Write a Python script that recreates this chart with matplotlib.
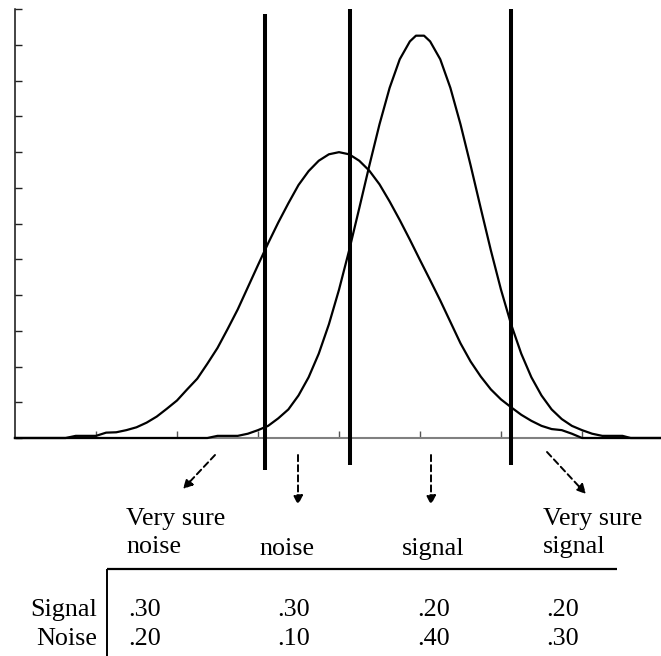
import matplotlib
matplotlib.use("Agg")
import matplotlib.pyplot as plt

# ---- data -----------------------------------------------------------------
# Noise distribution (wider curve), x in units of the noise standard deviation
noise_x = [-4.0, -3.5, -3.375, -3.25, -3.125, -3.0, -2.875, -2.75, -2.625, -2.5,
           -2.375, -2.25, -2.125, -2.0, -1.875, -1.75, -1.625, -1.5, -1.375,
           -1.25, -1.125, -1.0, -0.875, -0.75, -0.625, -0.5, -0.375, -0.25,
           -0.125, 0.0, 0.125, 0.25, 0.375, 0.5, 0.625, 0.75, 0.875, 1.0,
           1.125, 1.25, 1.375, 1.5, 1.625, 1.75, 1.875, 2.0, 2.125, 2.25,
           2.375, 2.5, 2.625, 2.75, 2.875, 3.0, 3.975]
noise_y = [0.0, 0.0, 0.0, 0.06, 0.06, 0.06, 0.15, 0.16, 0.22, 0.30,
           0.43, 0.60, 0.82, 1.05, 1.36, 1.66, 2.08, 2.52, 3.05,
           3.60, 4.22, 4.84, 5.45, 6.03, 6.57, 7.08, 7.47, 7.76,
           7.94, 8.0, 7.94, 7.76, 7.48, 7.10, 6.62, 6.10, 5.55, 4.98,
           4.42, 3.85, 3.25, 2.65, 2.14, 1.72, 1.36, 1.08, 0.86, 0.65,
           0.48, 0.34, 0.25, 0.22, 0.12, 0.0, 0.0]

# Signal distribution (narrower, taller curve)
signal_x = [-4.0, -1.625, -1.5, -1.375, -1.25, -1.125, -1.0, -0.875, -0.75,
            -0.625, -0.5, -0.375, -0.25, -0.125, 0.0, 0.125, 0.25, 0.375,
            0.5, 0.625, 0.75, 0.875, 0.95, 1.05, 1.125, 1.25, 1.375, 1.5,
            1.625, 1.75, 1.875, 2.0, 2.125, 2.25, 2.375, 2.5, 2.625, 2.75,
            2.875, 3.0, 3.125, 3.25, 3.375, 3.5, 3.6, 3.975]
signal_y = [0.0, 0.0, 0.06, 0.06, 0.06, 0.12, 0.22, 0.34, 0.55,
            0.80, 1.19, 1.70, 2.36, 3.18, 4.15, 5.25, 6.43, 7.63,
            8.78, 9.80, 10.60, 11.10, 11.26, 11.26, 11.10, 10.60, 9.80, 8.78,
            7.63, 6.43, 5.25, 4.15, 3.18, 2.36, 1.70, 1.19, 0.80, 0.53,
            0.34, 0.22, 0.12, 0.06, 0.06, 0.06, 0.0, 0.0]

# Decision criteria separating the four rating categories
criteria = [-0.91, 0.14, 2.12]

# Rating categories and response proportions
categories = ["Very sure\nnoise", "noise", "signal", "Very sure\nsignal"]
row_labels = ["Signal", "Noise"]
signal_props = [0.30, 0.30, 0.20, 0.20]
noise_props = [0.20, 0.10, 0.40, 0.30]

# ---- figure -----------------------------------------------------------------
W, H = 661, 656
X0, XS = 339.0, 81.0      # pixel of x=0, pixels per x unit
Y0, YS = 438.0, 35.73     # pixel of y=0, pixels per y unit

fig = plt.figure(figsize=(W / 100, H / 100), dpi=100)
ax = fig.add_axes([0, 0, 1, 1])
ax.set_xlim(-X0 / XS, (W - X0) / XS)
ax.set_ylim((Y0 - H) / YS, Y0 / YS)
ax.patch.set_alpha(0)


def dx(px):
    return (px - X0) / XS


def dy(py):
    return (Y0 - py) / YS


serif = ["Liberation Serif", "DejaVu Serif"]
fs = 18.8

# axes
for side in ("top", "right"):
    ax.spines[side].set_visible(False)
ax.spines["left"].set_position(("data", -4.0))
ax.spines["left"].set_bounds(0, 12)
ax.spines["left"].set_linewidth(1.1)
ax.spines["left"].set_color("#111111")
ax.spines["bottom"].set_position(("data", 0.0))
ax.spines["bottom"].set_bounds(-4.0, dx(W))
ax.spines["bottom"].set_linewidth(1.5)
ax.spines["bottom"].set_color("#808080")
ax.set_yticks(range(0, 13))
ax.set_xticks(range(-3, 4))
ax.tick_params(axis="y", direction="in", length=5, width=1.0, color="#222222",
               labelleft=False)
ax.tick_params(axis="x", direction="in", length=5, width=1.0, color="#555555",
               labelbottom=False)

# distributions
ax.plot(noise_x, noise_y, color="black", lw=1.6, zorder=3, solid_joinstyle="round")
ax.plot(signal_x, signal_y, color="black", lw=1.6, zorder=3, solid_joinstyle="round")

# criteria lines
tops = [dy(14), dy(9), dy(9)]
bottoms = [dy(470), dy(465), dy(465)]
ax.vlines(criteria, bottoms, tops, colors="black", lw=2.9, zorder=4)

# dashed arrows pointing to the category labels
arrows = [((215, 455), (183, 489)),
          ((298, 455), (298, 505)),
          ((431, 455), (431, 505)),
          ((547, 452), (586, 494))]
for (sx, sy), (tx, ty) in arrows:
    ax.annotate("", xy=(dx(tx), dy(ty)), xytext=(dx(sx), dy(sy)),
                arrowprops=dict(arrowstyle="-|>,head_length=0.55,head_width=0.28",
                                linestyle=(0, (3.2, 2.0)), lw=1.4,
                                color="black", shrinkA=0, shrinkB=0))

# category labels
label_pos = [(126, 525), (259, 555), (402, 555), (543, 525)]
for text, (lx, ly) in zip(categories, label_pos):
    for i, line in enumerate(text.split("\n")):
        ax.text(dx(lx), dy(ly + 28 * i), line, family=serif, fontsize=fs,
                ha="left", va="baseline")

# table rules
ax.plot([dx(107), dx(617)], [dy(569), dy(569)], color="black", lw=1.6,
        solid_capstyle="butt")
ax.plot([dx(107), dx(107)], [dy(569), dy(H + 2)], color="black", lw=1.4,
        solid_capstyle="butt")

# table values
col_x = [128, 277, 417, 546]
row_y = [616, 645]
for ry, name, props in zip(row_y, row_labels, [signal_props, noise_props]):
    ax.text(dx(97), dy(ry), name, family=serif, fontsize=fs, ha="right",
            va="baseline")
    for cx, v in zip(col_x, props):
        ax.text(dx(cx), dy(ry), f"{v:.2f}".lstrip("0"), family=serif,
                fontsize=fs, ha="left", va="baseline")

fig.savefig("out.png", dpi=100)
